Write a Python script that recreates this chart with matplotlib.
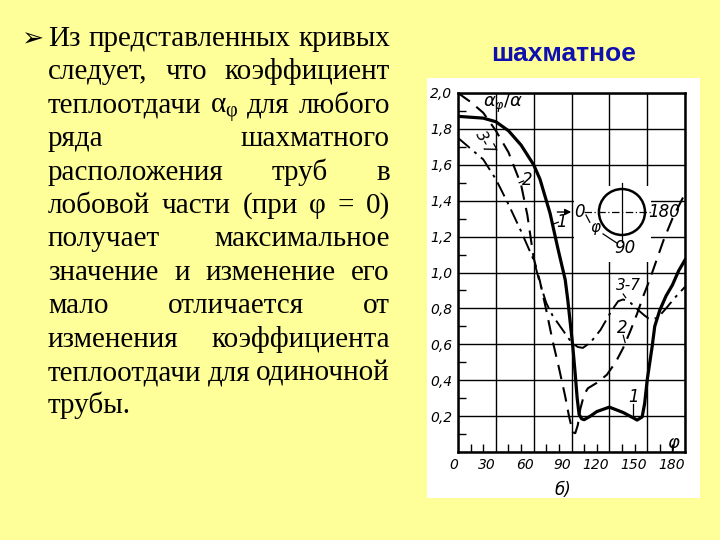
import matplotlib
matplotlib.use("Agg")
import matplotlib.pyplot as plt
from matplotlib.patches import Ellipse, Rectangle
from matplotlib.transforms import IdentityTransform

plt.rcParams['mathtext.fontset'] = 'custom'
plt.rcParams['mathtext.rm'] = 'Liberation Serif'
plt.rcParams['mathtext.it'] = 'Liberation Serif:italic'

BG = '#FFFF99'
W, H = 720, 540

# curve 1 - solid (first row)
phi_1 = [0, 10, 20, 30, 40, 50, 60, 65, 73, 79, 85, 87, 89, 91, 93, 94.5, 96, 98, 100,
         105, 110, 120, 131, 139, 142, 146, 148, 150, 154, 156, 160, 165, 170, 175, 180]
a_1 = [1.87, 1.865, 1.86, 1.84, 1.79, 1.71, 1.60, 1.52, 1.33, 1.14, 0.96, 0.85, 0.72, 0.59,
       0.43, 0.30, 0.21, 0.185, 0.18, 0.20, 0.225, 0.25, 0.22, 0.19, 0.178, 0.195, 0.27,
       0.40, 0.59, 0.70, 0.79, 0.87, 0.93, 1.01, 1.07]

# curve 2 - dashed (second row)
phi_2 = [0, 10, 20, 30, 40, 50, 55, 60, 65, 70, 75, 80, 85, 88, 91, 93, 95, 97, 100, 103,
         110, 118, 125, 131, 137, 142, 147, 152, 158, 163, 170, 175, 180]
a_2 = [2.0, 1.95, 1.89, 1.79, 1.67, 1.49, 1.32, 1.08, 0.95, 0.79, 0.62, 0.47, 0.31, 0.20,
       0.11, 0.105, 0.15, 0.24, 0.32, 0.355, 0.385, 0.43, 0.50, 0.58, 0.68, 0.77, 0.87,
       0.96, 1.08, 1.18, 1.30, 1.37, 1.44]

# curve 3-7 - dash-dot (rows 3 to 7)
phi_3 = [0, 10, 20, 30, 40, 50, 60, 65, 70, 75, 80, 85, 90, 95, 99, 105, 113, 122, 127,
         131, 137, 143, 148, 151, 158, 165, 172, 180]
a_3 = [1.75, 1.69, 1.63, 1.52, 1.38, 1.23, 1.07, 0.94, 0.83, 0.76, 0.71, 0.66, 0.61, 0.585,
       0.58, 0.61, 0.68, 0.79, 0.84, 0.85, 0.83, 0.79, 0.76, 0.745, 0.745, 0.80, 0.86, 0.92]

x_ticks = [0, 30, 60, 90, 120, 150, 180]
x_labels = ['0', '30', '60', '90', '120', '150', '180']
y_ticks = [0, 0.2, 0.4, 0.6, 0.8, 1.0, 1.2, 1.4, 1.6, 1.8, 2.0]
y_labels = ['', '0,2', '0,4', '0,6', '0,8', '1,0', '1,2', '1,4', '1,6', '1,8', '2,0']

title = 'шахматное'
body = [
    ['Из', 'представленных', 'кривых'],
    ['следует,', 'что', 'коэффициент'],
    ['теплоотдачи', r'$\mathrm{\alpha}_{\mathrm{\varphi}}$', 'для', 'любого'],
    ['ряда', 'шахматного'],
    ['расположения', 'труб', 'в'],
    ['лобовой', 'части', '(при', 'φ', '=', '0)'],
    ['получает', 'максимальное'],
    ['значение', 'и', 'изменение', 'его'],
    ['мало', 'отличается', 'от'],
    ['изменения', 'коэффициента'],
    ['теплоотдачи', 'для', 'одиночной'],
    ['трубы.'],
]

fig = plt.figure(figsize=(7.2, 5.4), dpi=100, facecolor=BG)
renderer = fig.canvas.get_renderer()
ident = IdentityTransform()

# white panel behind the scanned chart
fig.patches.append(Rectangle((427 / W, 1 - 498 / H), 273 / W, 420 / H,
                             transform=fig.transFigure, facecolor='white',
                             edgecolor='none', zorder=-1))

# ---- left justified text ----
left, right = 48, 390
base0, step = 46, 33.4


def make_words(words, fs):
    return [fig.text(0, 0, w, fontsize=fs, family='Liberation Serif', color='black',
                     transform=ident, va='baseline', ha='left') for w in words]


fs = 22.0
widths = []
for words in body:
    ts = make_words(words, fs)
    wsum = sum(t.get_window_extent(renderer).width for t in ts)
    widths.append(wsum + 0.2 * fs * 100 / 72 * (len(words) - 1))
    for t in ts:
        t.remove()
over = max(widths) / (right - left)
if over > 1:
    fs = fs / over

for i, words in enumerate(body):
    yb = H - (base0 + i * step)
    ts = make_words(words, fs)
    ws = [t.get_window_extent(renderer).width for t in ts]
    if i == len(body) - 1 or len(words) == 1:
        gap = 0.25 * fs * 100 / 72
    else:
        gap = (right - left - sum(ws)) / (len(words) - 1)
    x = left
    for t, w in zip(ts, ws):
        t.set_position((x, yb))
        x += w + gap

fig.text(21, H - 46, '➢', fontsize=19, family='DejaVu Sans', transform=ident,
         va='baseline', ha='left', color='black')

fig.text(564, H - 61, title, fontsize=19, family='Liberation Sans', weight='bold',
         color='#1010B0', transform=ident, va='baseline', ha='center')

# ---- chart ----
ax = fig.add_axes([458 / W, 1 - 452 / H, 227 / W, 359 / H])
ax.set_facecolor('white')
ax.set_xlim(0, 180)
ax.set_ylim(0, 2.0)

ax.plot(phi_1, a_1, color='black', lw=2.3, solid_joinstyle='round', zorder=3)
ax.plot(phi_2, a_2, color='black', lw=1.5, ls=(0, (7, 4)), zorder=3)
ax.plot(phi_3, a_3, color='black', lw=1.4, ls=(0, (8, 3, 1.5, 3)), zorder=3)

ax.set_xticks(x_ticks, labels=x_labels)
ax.set_yticks(y_ticks, labels=y_labels)
ax.set_xticks(range(0, 181, 10), minor=True)
ax.set_yticks([v / 10 for v in range(1, 20)], minor=True)
for lbl in ax.get_xticklabels():
    lbl.set_ha('right')
for lbl in ax.get_xticklabels() + ax.get_yticklabels():
    lbl.set_fontstyle('italic')
    lbl.set_fontsize(10)
    lbl.set_family('DejaVu Sans')
ax.tick_params(which='major', length=0, pad=4)
ax.tick_params(which='minor', direction='in', length=6, width=1.0,
               top=False, right=False)
ax.grid(True, which='major', color='black', lw=1.0)
for sp in ax.spines.values():
    sp.set_linewidth(1.8)

# blank area round the sketch of the tube
ax.add_patch(Rectangle((92, 1.06), 61, 0.42, facecolor='white', edgecolor='none', zorder=1.8))
ax.add_patch(Ellipse((130, 1.337), 36.5, 0.256, facecolor='none', edgecolor='black',
                     lw=1.8, zorder=3))
ax.plot([100, 153], [1.337, 1.337], color='black', lw=0.9, ls=(0, (6, 2, 1, 2)), zorder=3)
ax.plot([130, 130], [1.17, 1.50], color='black', lw=0.9, zorder=3)
ax.annotate('', xy=(92, 1.337), xytext=(76.5, 1.337),
            arrowprops=dict(arrowstyle='-|>', color='black', lw=1.0,
                            mutation_scale=9), zorder=3)

lab = dict(fontstyle='italic', family='DejaVu Sans', color='black', zorder=4)
ax.text(96.5, 1.337, '0', fontsize=12, ha='center', va='center', **lab)
ax.text(163.5, 1.337, '180', fontsize=12, ha='center', va='center', **lab)
ax.text(108.6, 1.248, 'φ', fontsize=11, ha='center', va='center', **lab)
ax.text(132.4, 1.136, '90', fontsize=12, ha='center', va='center', **lab)
ax.plot([101.5, 104.5], [1.32, 1.28], color='black', lw=0.9, zorder=3)
ax.plot([115, 126], [1.215, 1.164], color='black', lw=0.9, zorder=3)

ax.text(20, 1.94, r'$\mathit{\alpha_{\varphi}/\alpha}$', fontsize=13, ha='left',
        va='center', math_fontfamily='dejavusans', zorder=4, color='black')
ax.text(21.4, 1.72, '3-7', fontsize=11, rotation=-62, ha='center', va='center', **lab)
ax.text(54.7, 1.515, '2', fontsize=12, ha='center', va='center', **lab)
ax.plot([48.5, 52], [1.50, 1.51], color='black', lw=0.9, zorder=3)
ax.text(81.7, 1.28, '1', fontsize=12, ha='center', va='center', **lab)
ax.plot([75.5, 79.5], [1.27, 1.28], color='black', lw=0.9, zorder=3)

ax.text(134.8, 0.93, '3-7', fontsize=11, ha='center', va='center', **lab)
ax.plot([131, 133], [0.88, 0.86], color='black', lw=0.9, zorder=3)
ax.text(130, 0.69, '2', fontsize=12, ha='center', va='center', **lab)
ax.plot([131, 132.5], [0.65, 0.61], color='black', lw=0.9, zorder=3)
ax.text(138.8, 0.306, '1', fontsize=12, ha='center', va='center', **lab)
ax.plot([139, 139], [0.265, 0.2], color='black', lw=0.9, zorder=3)
ax.text(170.5, 0.05, 'φ', fontsize=13, ha='center', va='center', **lab)

fig.text(563, H - 490, 'б)', fontsize=12, fontstyle='italic', family='DejaVu Sans',
         transform=ident, ha='center', va='center', color='black')

fig.savefig('out.png', dpi=100, facecolor=BG)
